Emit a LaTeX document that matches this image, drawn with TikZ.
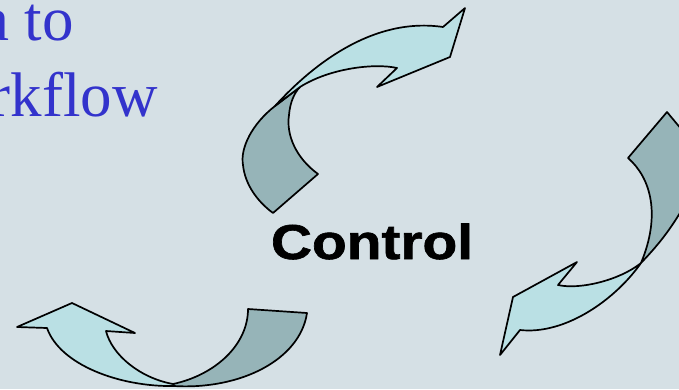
\documentclass[tikz,border=0pt]{standalone}
\usepackage{fontspec}
\setmainfont{Liberation Serif}
\newfontfamily\ctlfont[BoldFeatures={FakeBold=1.2}]{Liberation Sans}
\definecolor{bgc}{RGB}{213,224,229}
\definecolor{lightc}{RGB}{186,224,228}
\definecolor{darkc}{RGB}{150,180,184}
\definecolor{bluec}{RGB}{51,51,204}
\begin{document}
\begin{tikzpicture}[x=1pt,y=-1pt,
  ribbon/.style={draw=black, line width=1.7pt, line join=round},
  lightpart/.style={ribbon, fill=lightc},
  darkpart/.style={ribbon, fill=darkc},
  titletext/.style={font=\fontsize{63}{75}\selectfont, text=bluec, inner sep=0pt},
  ctltext/.style={font=\ctlfont\bfseries\fontsize{49}{56}\selectfont, text=black, inner sep=0pt, transform shape, xscale=1.16}]
\useasboundingbox (0,0) rectangle (679,389);
\fill[bgc] (0,0) rectangle (679,389);
\clip (0,0) rectangle (679,389);

% title text (clipped at the left, as in the reference)
\node[titletext, anchor=base east] (t1) at (74,40) {a to};
\node[titletext, anchor=base east] (t2) at (158,116) {rkflow};

% centre label
\node[ctltext, anchor=base] (ctl) at (372,259) {Control};

% ---- top arrow ----
\draw[darkpart] (275,106) .. controls (252,124) and (240,148) .. (243,165)
  .. controls (245,185) and (258,202) .. (273,213)
  -- (318,174)
  .. controls (296,158) and (286,135) .. (289,115)
  .. controls (290,103) and (294,93) .. (300,87) -- cycle;
\draw[lightpart] (275,106) .. controls (315,62) and (375,17) .. (443,27)
  -- (465,8) -- (450,57) -- (377,87) -- (397,68)
  .. controls (375,63) and (330,68) .. (300,87) -- cycle;

% ---- right arrow ----
\draw[darkpart] (667,112) -- (628,158)
  .. controls (651,178) and (661,215) .. (641,263)
  .. controls (660,243) and (678,222) .. (700,175)
  -- (692,142) -- cycle;
\draw[lightpart] (641,263) .. controls (615,300) and (565,335) .. (520,330)
  -- (500,355) -- (513,297) -- (577,262) -- (558,285)
  .. controls (580,290) and (620,280) .. cycle;

% ---- bottom arrow ----
\draw[darkpart] (174,386) .. controls (240,390) and (300,360) .. (307,313)
  -- (248,309)
  .. controls (248,345) and (215,375) .. (173,384) -- cycle;
\draw[lightpart] (72,303) -- (17,327) -- (47,328)
  .. controls (60,365) and (120,387) .. (174,386)
  -- (173,384)
  .. controls (140,378) and (112,355) .. (106,331)
  -- (135,333) -- cycle;
\end{tikzpicture}
\end{document}
